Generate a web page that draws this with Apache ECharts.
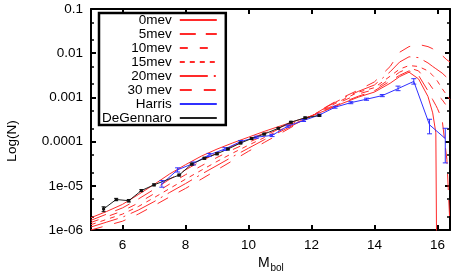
<!DOCTYPE html>
<html><head><meta charset="utf-8">
<script src="https://cdn.jsdelivr.net/npm/echarts@6/dist/echarts.min.js"></script>
<style>html,body{margin:0;padding:0;background:#fff}#c{width:458px;height:279px}</style>
</head><body><div id="c"></div>
<script>
// ---- data ----
const mGrid = [5, 5.5, 6, 6.5, 7, 7.5, 8, 8.5, 9, 9.5, 10, 10.5, 11, 11.5, 12, 12.5, 13, 13.5, 14, 14.5, 14.8, 15.1, 15.4, 15.7, 15.85, 15.95, 16, 16.15, 16.3, 16.4];
const mev0  = [1.9e-6, 2.63e-6, 3.8e-6, 6.3e-6, 1.07e-5, 1.86e-5, 3.0e-5, 4.68e-5, 6.76e-5, 9.33e-5, 1.26e-4, 1.7e-4, 2.24e-4, 2.95e-4, 3.8e-4, 5.25e-4, 7.41e-4, 1.02e-3, 1.32e-3, 2.09e-3, 2.95e-3, 3.72e-3, 2.63e-3, 1.05e-3, 4.47e-4, 1.58e-4, 1e-9, null, null, null];
const mev5  = [1.66e-6, 2.29e-6, 3.16e-6, 5.0e-6, 8.3e-6, 1.41e-5, 2.29e-5, 3.63e-5, 5.5e-5, 7.94e-5, 1.12e-4, 1.55e-4, 2.09e-4, 2.82e-4, 3.8e-4, 5.37e-4, 7.76e-4, 1.07e-3, 1.41e-3, 2.34e-3, 3.16e-3, 3.98e-3, 3.16e-3, 1.41e-3, 8.9e-4, 6.6e-4, 5.62e-4, 3.16e-4, 3.98e-5, 1.26e-6];
const mev10 = [1.48e-6, 2.0e-6, 2.69e-6, 4.07e-6, 6.6e-6, 1.1e-5, 1.78e-5, 2.82e-5, 4.37e-5, 6.6e-5, 9.55e-5, 1.38e-4, 1.95e-4, 2.75e-4, 3.8e-4, 5.62e-4, 8.3e-4, 1.2e-3, 1.51e-3, 2.63e-3, 3.72e-3, 4.68e-3, 3.98e-3, 2.24e-3, 1.58e-3, 1.26e-3, 1.12e-3, 8.9e-4, 6.3e-4, 3.98e-4];
const mev15 = [1.32e-6, 1.74e-6, 2.29e-6, 3.39e-6, 5.37e-6, 8.7e-6, 1.41e-5, 2.24e-5, 3.55e-5, 5.5e-5, 8.3e-5, 1.23e-4, 1.82e-4, 2.63e-4, 3.8e-4, 5.89e-4, 8.9e-4, 1.32e-3, 1.66e-3, 3.02e-3, 4.37e-3, 5.25e-3, 5.01e-3, 3.98e-3, 3.16e-3, 2.63e-3, 2.34e-3, 1.58e-3, 1.12e-3, 8.9e-4];
const mev20 = [1.17e-6, 1.51e-6, 1.95e-6, 2.82e-6, 4.37e-6, 7.08e-6, 1.12e-5, 1.82e-5, 2.88e-5, 4.57e-5, 7.08e-5, 1.1e-4, 1.66e-4, 2.51e-4, 3.8e-4, 6.17e-4, 9.55e-4, 1.38e-3, 1.91e-3, 3.8e-3, 6.31e-3, 8.3e-3, 7.94e-3, 6.03e-3, 5.01e-3, 4.47e-3, 4.17e-3, 3.55e-3, 2.82e-3, 2.51e-3];
const mev30 = [1.0e-6, 1.26e-6, 1.58e-6, 2.29e-6, 3.55e-6, 5.62e-6, 8.7e-6, 1.41e-5, 2.29e-5, 3.72e-5, 6.03e-5, 9.55e-5, 1.51e-4, 2.4e-4, 3.8e-4, 6.31e-4, 1.0e-3, 1.48e-3, 2.24e-3, 5.01e-3, 1.05e-2, 1.41e-2, 1.58e-2, 1.41e-2, 1.26e-2, 1.12e-2, 1.05e-2, 8.9e-3, 7.08e-3, 6.31e-3];

const harrisM  = [7.25, 7.75, 8.25, 8.75, 9.25, 9.75, 10.25, 10.75, 11.25, 11.75, 12.25, 12.75, 13.25, 13.75, 14.25, 14.75, 15.25, 15.75, 16.25];
const harrisN  = [1.10e-5, 2.3e-5, 3.2e-5, 5.0e-5, 6.8e-5, 1.0e-4, 1.26e-4, 1.38e-4, 2.24e-4, 3.0e-4, 4.0e-4, 6.0e-4, 7.6e-4, 9.1e-4, 1.1e-3, 1.58e-3, 2.3e-3, 2.4e-4, 1.17e-4];
const harrisLo = [9.3e-6, 2.05e-5, 2.95e-5, 4.6e-5, 6.3e-5, 9.4e-5, 1.19e-4, 1.3e-4, 2.12e-4, 2.85e-4, 3.8e-4, 5.7e-4, 7.2e-4, 8.6e-4, 1.04e-3, 1.42e-3, 2.0e-3, 1.5e-4, 3.3e-5];
const harrisHi = [1.32e-5, 2.55e-5, 3.45e-5, 5.4e-5, 7.3e-5, 1.06e-4, 1.33e-4, 1.46e-4, 2.36e-4, 3.15e-4, 4.2e-4, 6.3e-4, 8.0e-4, 9.6e-4, 1.16e-3, 1.8e-3, 2.65e-3, 3.2e-4, 2.0e-4];

const degM  = [5.4, 5.8, 6.2, 6.6, 7.0, 7.8, 8.2, 8.6, 9.0, 9.35, 9.75, 10.1, 10.5, 10.95, 11.35, 11.8, 12.25];
const degN  = [3.0e-6, 4.9e-6, 4.6e-6, 7.8e-6, 1.05e-5, 1.75e-5, 3.1e-5, 4.2e-5, 5.3e-5, 6.8e-5, 9.3e-5, 1.17e-4, 1.48e-4, 2.0e-4, 2.75e-4, 3.45e-4, 3.9e-4];
const degLo = [2.6e-6, 4.6e-6, 4.3e-6, 7.4e-6, 1.0e-5, 1.67e-5, 2.96e-5, 4.0e-5, 5.05e-5, 6.5e-5, 8.9e-5, 1.12e-4, 1.42e-4, 1.92e-4, 2.64e-4, 3.31e-4, 3.75e-4];
const degHi = [3.35e-6, 5.2e-6, 4.9e-6, 8.2e-6, 1.1e-5, 1.83e-5, 3.24e-5, 4.4e-5, 5.55e-5, 7.1e-5, 9.7e-5, 1.22e-4, 1.54e-4, 2.08e-4, 2.86e-4, 3.59e-4, 4.05e-4];

const xTicks = [6, 8, 10, 12, 14, 16];
const yTicks = [1e-6, 1e-5, 1e-4, 1e-3, 1e-2, 1e-1];
const yTickLabels = ['1e-06', '1e-05', '0.0001', '0.001', '0.01', '0.1'];
const yMinorTicks = [2e-6, 5e-6, 2e-5, 5e-5, 2e-4, 5e-4, 2e-3, 5e-3, 2e-2, 5e-2];
const legendNames = ['0mev', '5mev', '10mev', '15mev', '20mev', '30 mev', 'Harris', 'DeGennaro'];

// ---- chart ----
const FONT = 'Liberation Sans';
const RED = '#ff2a2a';
const chart = echarts.init(document.getElementById('c'), null, {renderer: 'canvas'});

function curve(name, vals, type) {
  return {
    name: name, type: 'line', symbol: 'none', animation: false, z: 3,
    data: mGrid.map((m, i) => [m, vals[i]]),
    lineStyle: {color: RED, width: 1, type: type},
    itemStyle: {color: RED}
  };
}
function errRender(capHalf, color, dot) {
  return function (params, api) {
    const x = api.value(0);
    const p = api.coord([x, api.value(1)]);
    const lo = api.coord([x, api.value(2)]);
    const hi = api.coord([x, api.value(3)]);
    const st = {stroke: color, lineWidth: 1};
    const ch = [
      {type: 'line', shape: {x1: lo[0], y1: lo[1], x2: hi[0], y2: hi[1]}, style: st},
      {type: 'line', shape: {x1: lo[0] - capHalf, y1: lo[1], x2: lo[0] + capHalf, y2: lo[1]}, style: st},
      {type: 'line', shape: {x1: hi[0] - capHalf, y1: hi[1], x2: hi[0] + capHalf, y2: hi[1]}, style: st}
    ];
    if (dot) ch.push({type: 'rect', shape: {x: p[0] - 1.5, y: p[1] - 1.5, width: 3, height: 3}, style: {fill: color}});
    return {type: 'group', children: ch};
  };
}
function xAx(pos, labels) {
  return {
    type: 'value', min: 5, max: 16.4, position: pos,
    axisLine: {show: true, lineStyle: {color: '#000', width: 2}},
    axisTick: {show: true, inside: true, length: 5, lineStyle: {color: '#000', width: 2}, customValues: xTicks},
    axisLabel: {show: labels, customValues: xTicks, color: '#000', fontSize: 13.5, fontFamily: FONT, margin: 8},
    splitLine: {show: false}
  };
}
function yAx(pos, labels, minor) {
  return {
    type: 'log', logBase: 10, min: 1e-6, max: 0.1, position: pos,
    axisLine: {show: !minor, lineStyle: {color: '#000', width: 2}},
    axisTick: {show: true, inside: true, length: minor ? 3 : 5, lineStyle: {color: '#000', width: minor ? 1.5 : 2}, customValues: minor ? yMinorTicks : yTicks},
    axisLabel: {show: labels, customValues: yTicks, color: '#000', fontSize: 13.5, fontFamily: FONT, margin: 8,
      formatter: function (v) { return yTickLabels[Math.round(Math.log10(v)) + 6]; }},
    splitLine: {show: false}, minorTick: {show: false}
  };
}

chart.setOption({
  animation: false,
  backgroundColor: '#fff',
  grid: {left: 91, right: 8, top: 9, bottom: 49, containLabel: false},
  xAxis: [xAx('bottom', true), xAx('top', false)],
  yAxis: [yAx('left', true, false), yAx('right', false, false), yAx('left', false, true), yAx('right', false, true)],
  legend: {
    orient: 'vertical', left: 99, top: 13, align: 'right',
    data: legendNames,
    itemWidth: 37, itemHeight: 13.5, itemGap: 0,
    padding: [0, 8, 0, 3],
    backgroundColor: '#fff', borderColor: '#000', borderWidth: 2.5,
    itemStyle: {color: 'rgba(0,0,0,0)', borderColor: 'rgba(0,0,0,0)', borderWidth: 0, opacity: 0},
    textStyle: {fontFamily: FONT, fontSize: 13.5, color: '#000', padding: [0, 3, 0, 0]}
  },
  graphic: [
    {type: 'text', x: 12, y: 141, rotation: Math.PI / 2, style: {text: 'Log(N)', font: '13.5px "Liberation Sans"', fill: '#000', align: 'center', verticalAlign: 'middle'}},
    {type: 'text', x: 258, y: 263.5, style: {text: 'M', font: '14px "Liberation Sans"', fill: '#000', align: 'left', verticalAlign: 'middle'}},
    {type: 'text', x: 270.5, y: 268.5, style: {text: 'bol', font: '10px "Liberation Sans"', fill: '#000', align: 'left', verticalAlign: 'middle'}}
  ],
  series: [
    curve('0mev', mev0, 'solid'),
    curve('5mev', mev5, [16, 10]),
    curve('10mev', mev10, [8, 12]),
    curve('15mev', mev15, [5, 5]),
    curve('20mev', mev20, [28, 6, 2, 6]),
    curve('30 mev', mev30, [12, 12]),
    {name: 'Harris', type: 'line', symbol: 'none', z: 4, data: harrisM.map((m, i) => [m, harrisN[i]]),
      lineStyle: {color: '#3030ff', width: 1}, itemStyle: {color: '#3030ff'}},
    {name: 'DeGennaro', type: 'line', symbol: 'none', z: 4, data: degM.map((m, i) => [m, degN[i]]),
      lineStyle: {color: '#222', width: 1}, itemStyle: {color: '#222'}},
    {name: 'HarrisErr', type: 'custom', z: 5, renderItem: errRender(2.5, '#3030ff', false), encode: {x: 0, y: [1, 2, 3]},
      data: harrisM.map((m, i) => [m, harrisN[i], harrisLo[i], harrisHi[i]])},
    {name: 'DeGennaroErr', type: 'custom', z: 5, renderItem: errRender(2, '#111', true), encode: {x: 0, y: [1, 2, 3]},
      data: degM.map((m, i) => [m, degN[i], degLo[i], degHi[i]])}
  ]
});
</script></body></html>
